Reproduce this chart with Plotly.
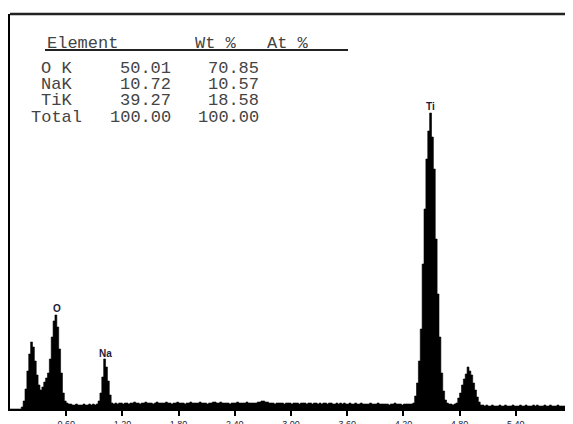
import numpy as np
import plotly.graph_objects as go

# ---------------- data ----------------
channel_width_kev = 0.02  # energy width of one channel
# counts per channel, 10 channels per row, starting at 0.00 keV
counts = [
    0, 0, 0, 0, 0, 0, 2, 8, 20, 38,            # 0.00-0.18
    55, 67, 62, 48, 34, 24, 19, 22, 27, 31,    # 0.20-0.38
    36, 50, 72, 88, 94, 82, 60, 36, 16, 8,     # 0.40-0.58
    6, 5, 5, 4, 4, 5, 4, 4, 4, 5,              # 0.60-0.78
    4, 4, 5, 4, 5, 4, 5, 8, 16, 32,            # 0.80-0.98
    50, 42, 28, 14, 6, 5, 6, 5, 6, 6,          # 1.00-1.18
    5, 6, 6, 5, 6, 6, 7, 6, 6, 5,              # 1.20-1.38
    6, 6, 7, 6, 6, 6, 5, 6, 7, 6,              # 1.40-1.58
    6, 6, 6, 7, 6, 6, 5, 6, 6, 7,              # 1.60-1.78
    6, 6, 6, 5, 6, 6, 7, 6, 6, 6,              # 1.80-1.98
    6, 7, 6, 6, 6, 5, 6, 6, 7, 7,              # 2.00-2.18
    6, 6, 7, 6, 6, 6, 6, 5, 6, 6,              # 2.20-2.38
    6, 7, 6, 6, 6, 6, 7, 6, 6, 6,              # 2.40-2.58
    6, 6, 7, 7, 8, 8, 7, 7, 6, 6,              # 2.60-2.78
    6, 5, 6, 6, 6, 6, 5, 6, 6, 6,              # 2.80-2.98
    5, 6, 6, 6, 5, 6, 6, 6, 5, 6,              # 3.00-3.18
    6, 5, 6, 6, 5, 6, 5, 6, 6, 5,              # 3.20-3.38
    6, 6, 5, 5, 6, 5, 6, 5, 6, 5,              # 3.40-3.58
    5, 6, 5, 5, 6, 5, 5, 6, 5, 5,              # 3.60-3.78
    5, 5, 6, 5, 5, 5, 6, 5, 5, 5,              # 3.80-3.98
    5, 5, 4, 5, 5, 6, 5, 5, 5, 4,              # 4.00-4.18
    5, 5, 5, 5, 5, 6, 13, 26, 48, 80,          # 4.20-4.38
    145, 200, 250, 278, 296, 272, 240, 170, 115, 72,  # 4.40-4.58
    36, 18, 9, 6, 5, 5, 4, 5, 6, 11,           # 4.60-4.78
    16, 24, 30, 35, 42, 38, 34, 26, 19, 12,    # 4.80-4.98
    7, 4, 4, 3, 4, 3, 3, 4, 3, 3,              # 5.00-5.18
    3, 4, 3, 3, 4, 3, 3, 3, 4, 3,              # 5.20-5.38
    3, 3, 4, 3, 3, 4, 3, 3, 3, 4,              # 5.40-5.58
    3, 4, 3, 3, 3, 4, 3, 3, 4, 3,              # 5.60-5.78
    3, 3, 4, 3, 3, 3, 3, 4, 3, 3,              # 5.80-5.98
]

peak_labels = ["O", "Na", "Ti"]
peak_energy = [0.50, 1.015, 4.49]
peak_label_height = [101, 56, 303]

tick_values = [0.6, 1.2, 1.8, 2.4, 3.0, 3.6, 4.2, 4.8, 5.4, 6.0]
tick_labels = ["0.60", "1.20", "1.80", "2.40", "3.00", "3.60", "4.20", "4.80", "5.40", "6.00"]

table_header = ["Element", "Wt %", "At %"]
table_elements = ["O K", "NaK", "TiK", "Total"]
table_wt = ["50.01", "10.72", "39.27", "100.00"]
table_at = ["70.85", "10.57", "18.58", "100.00"]

# ---------------- figure ----------------
# the page body has an 8 px margin, so the figure starts at page (8, 8)
OFF = 8
W, H = 573 - OFF, 424 - OFF
ML, MR, MT, MB = 10 - OFF, 1, 14 - OFF, 15
PW, PH = W - ML - MR, H - MT - MB

def px(x):
    # page pixel x -> paper
    return (x - OFF - ML) / PW

def py(y):
    # page pixel y -> paper
    return (H + OFF - MB - y) / PH

energy = np.arange(len(counts)) * channel_width_kev
xs = list(energy) + [len(counts) * channel_width_kev]
ys = list(counts) + [counts[-1]]

fig = go.Figure()
fig.add_trace(go.Scatter(
    x=xs, y=ys, mode="lines", line=dict(color="black", width=0.6, shape="hv"),
    fill="tozeroy", fillcolor="black", hoverinfo="skip", showlegend=False,
))

label_font = dict(family="Liberation Sans, Arial, sans-serif", size=10, color="#1b1b3a")
for t, e, h in zip(peak_labels, peak_energy, peak_label_height):
    fig.add_annotation(x=e, y=h, text="<b>%s</b>" % t, showarrow=False,
                       xanchor="center", yanchor="middle", font=label_font)

mono = dict(family="Liberation Mono, Courier New, monospace", size=17, color="#444444")
BOXH = 14
header_x = [45, 193, 265]
for t, x in zip(table_header, header_x):
    fig.add_annotation(xref="paper", yref="paper", x=px(x), y=py(43), text=t, height=BOXH,
                       showarrow=False, xanchor="left", yanchor="middle", font=mono)
row_y = [68, 84, 100, 117]
for el, wt, at, y in zip(table_elements, table_wt, table_at, row_y):
    fig.add_annotation(xref="paper", yref="paper", x=px(56.5), y=py(y), text=el, height=BOXH,
                       showarrow=False, xanchor="center", yanchor="middle", font=mono)
    fig.add_annotation(xref="paper", yref="paper", x=px(173), y=py(y), text=wt, height=BOXH,
                       showarrow=False, xanchor="right", yanchor="middle", font=mono)
    fig.add_annotation(xref="paper", yref="paper", x=px(261), y=py(y), text=at, height=BOXH,
                       showarrow=False, xanchor="right", yanchor="middle", font=mono)

# header underline and top border
fig.add_shape(type="line", xref="paper", yref="paper", x0=px(45), x1=px(348),
              y0=py(50), y1=py(50), line=dict(color="#222222", width=2))
fig.add_shape(type="line", xref="paper", yref="paper", x0=0, x1=1.01,
              y0=1, y1=1, line=dict(color="#222222", width=2.5))

fig.update_layout(
    width=W, height=H,
    margin=dict(l=ML, r=MR, t=MT, b=MB, autoexpand=False),
    paper_bgcolor="white", plot_bgcolor="white",
    xaxis=dict(range=[0, 6.0], tickvals=tick_values, ticktext=tick_labels,
               ticks="outside", ticklen=5, tickwidth=1.5, tickcolor="black",
               showline=True, linecolor="black", linewidth=2, showgrid=False,
               zeroline=False, automargin=False,
               tickfont=dict(family="Liberation Sans, Arial, sans-serif", size=9, color="#1b1b3a")),
    yaxis=dict(range=[0, PH], showticklabels=False, ticks="", showgrid=False,
               zeroline=False, showline=True, linecolor="black", linewidth=2,
               automargin=False),
)

fig.write_html("out.html")
